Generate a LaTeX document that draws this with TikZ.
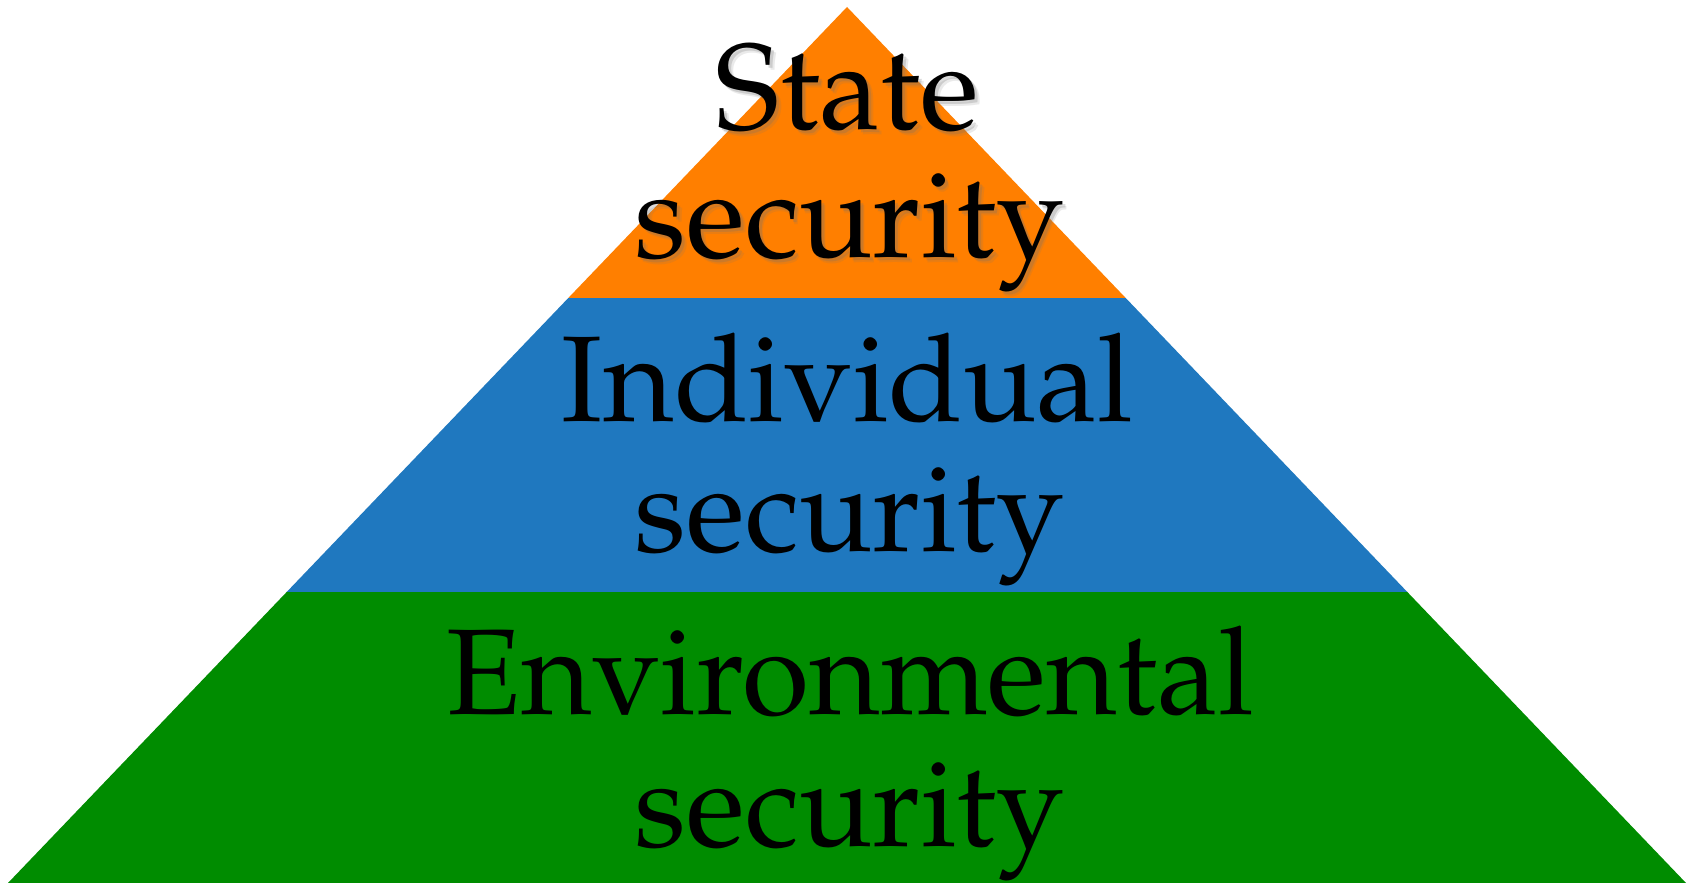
\documentclass[tikz,border=0pt]{standalone}
\usepackage[T1]{fontenc}
\usepackage{palatino}
\definecolor{tierorange}{RGB}{255,127,0}
\definecolor{tierblue}{RGB}{31,120,191}
\definecolor{tiergreen}{RGB}{0,140,0}
\begin{document}
\begin{tikzpicture}[x=1pt,y=1pt,
  label/.style={anchor=base,inner sep=0pt,font=\fontsize{122}{130}\selectfont},
  shade/.style={label,text=black!55,opacity=0.25}]
\useasboundingbox (0,0) rectangle (1694,885);
% pyramid tiers
\coordinate (apex) at (847,878);
\coordinate (bl) at (8,2);
\coordinate (br) at (1686,2);
\coordinate (ol) at (568.3,587);
\coordinate (or) at (1125.7,587);
\coordinate (gl) at (286.7,293);
\coordinate (gr) at (1407.3,293);
\fill[tiergreen] (bl) -- (br) -- (gr) -- (gl) -- cycle;
\fill[tierblue] (gl) -- (gr) -- (or) -- (ol) -- cycle;
\fill[tierorange] (ol) -- (or) -- (apex) -- cycle;
% top tier text with soft shadow
\node[shade] (s1sh) at (850.5,752) {State};
\node[shade] (s2sh) at (852.5,624) {security};
\node[shade,opacity=0.15] (s1sh2) at (852,750.5) {State};
\node[shade,opacity=0.15] (s2sh2) at (854,622.5) {security};
\node[label] (s1) at (847.5,755) {State};
\node[label] (s2) at (849.5,627) {security};
% middle tier text
\node[label] (i1) at (847.5,463) {Individual};
\node[label] (i2) at (849.5,333) {security};
% bottom tier text
\node[label] (e1) at (850,170) {Environmental};
\node[label] (e2) at (849.5,38) {security};
\end{tikzpicture}
\end{document}
